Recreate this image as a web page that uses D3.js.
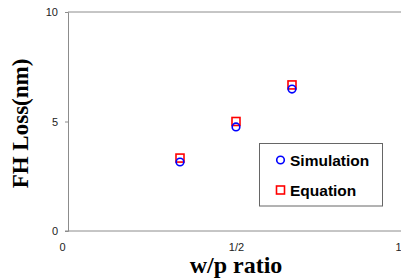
<!DOCTYPE html>
<html>
<head>
<meta charset="utf-8">
<script src="https://cdn.jsdelivr.net/npm/d3@7"></script>
<style>
  body { margin: 0; background: #fff; }
  svg { display: block; }
</style>
</head>
<body>
<div id="chart"></div>
<script>
// w/p ratio positions
const ratios = [1 / 3, 1 / 2, 2 / 3];
// FH loss (nm)
const simulation = [3.15, 4.75, 6.48];
const equation = [3.33, 5.0, 6.67];
const xTicks = [0, 0.5, 1];
const xTickLabels = ['0', '1/2', '1'];
const yTicks = [0, 5, 10];

const width = 401;
const height = 279;
const margin = { top: 12, right: -3, bottom: 48, left: 68 };

const svg = d3.select('#chart').append('svg')
  .attr('width', width)
  .attr('height', height);

const x = d3.scaleLinear().domain([0, 1]).range([margin.left, width - margin.right]);
const y = d3.scaleLinear().domain([0, 10]).range([height - margin.bottom, margin.top]);

// top frame line
svg.append('line')
  .attr('x1', x(0)).attr('x2', width)
  .attr('y1', y(10)).attr('y2', y(10))
  .attr('stroke', '#8c8c8c');

// y axis
const yAxis = svg.append('g')
  .attr('transform', `translate(${x(0)},0)`)
  .call(d3.axisLeft(y).tickValues(yTicks).tickSize(3).tickPadding(7));

// x axis
const xAxis = svg.append('g')
  .attr('transform', `translate(0,${y(0)})`)
  .call(d3.axisBottom(x).tickValues(xTicks).tickSize(0).tickPadding(12)
    .tickFormat((d, i) => xTickLabels[i]));

[yAxis, xAxis].forEach((g) => {
  g.select('.domain').attr('stroke', '#8c8c8c');
  g.selectAll('.tick line').attr('stroke', '#8c8c8c');
  g.selectAll('text')
    .attr('fill', '#222')
    .style('font-family', 'Liberation Sans, Arial, sans-serif')
    .style('font-size', '11px');
});
xAxis.select('.domain').attr('d', `M${x(0) - 3},0H${width}`);
// Excel-style label nudges at the ends
xAxis.selectAll('.tick text').attr('dx', (d) => (d === 0 ? -6 : d === 1 ? -6 : 0));

// equation markers (squares)
const sq = 8;
svg.append('g').selectAll('rect')
  .data(equation)
  .join('rect')
  .attr('x', (d, i) => x(ratios[i]) - sq / 2)
  .attr('y', (d) => y(d) - sq / 2)
  .attr('width', sq)
  .attr('height', sq)
  .attr('fill', 'none')
  .attr('stroke', '#ff0000')
  .attr('stroke-width', 1.6);

// simulation markers (circles)
svg.append('g').selectAll('circle')
  .data(simulation)
  .join('circle')
  .attr('cx', (d, i) => x(ratios[i]))
  .attr('cy', (d) => y(d))
  .attr('r', 3.8)
  .attr('fill', 'none')
  .attr('stroke', '#0000ff')
  .attr('stroke-width', 1.6);

// legend
const legend = svg.append('g').attr('transform', 'translate(259.5,143.5)');
legend.append('rect')
  .attr('width', 123)
  .attr('height', 62.5)
  .attr('fill', '#fff')
  .attr('stroke', '#666');
legend.append('circle')
  .attr('cx', 21).attr('cy', 16.5).attr('r', 3.8)
  .attr('fill', 'none').attr('stroke', '#0000ff').attr('stroke-width', 1.6);
legend.append('rect')
  .attr('x', 17).attr('y', 42.5).attr('width', sq).attr('height', sq)
  .attr('fill', 'none').attr('stroke', '#ff0000').attr('stroke-width', 1.6);
legend.selectAll('text.lbl')
  .data(['Simulation', 'Equation'])
  .join('text')
  .attr('class', 'lbl')
  .attr('x', 30.5)
  .attr('y', (d, i) => 22 + i * 30.5)
  .text((d) => d)
  .style('font-family', 'Liberation Sans, Arial, sans-serif')
  .style('font-weight', 'bold')
  .style('font-size', '15.5px')
  .attr('fill', '#000');

// axis titles
svg.append('text')
  .attr('transform', `translate(28,${(y(0) + y(10)) / 2 + 2}) rotate(-90)`)
  .attr('text-anchor', 'middle')
  .style('font-family', 'Liberation Serif, Times New Roman, serif')
  .style('font-weight', 'bold')
  .style('font-size', '23px')
  .text('FH Loss(nm)');

svg.append('text')
  .attr('x', 236)
  .attr('y', 273)
  .attr('text-anchor', 'middle')
  .style('font-family', 'Liberation Serif, Times New Roman, serif')
  .style('font-weight', 'bold')
  .style('font-size', '24px')
  .text('w/p ratio');
</script>
</body>
</html>
